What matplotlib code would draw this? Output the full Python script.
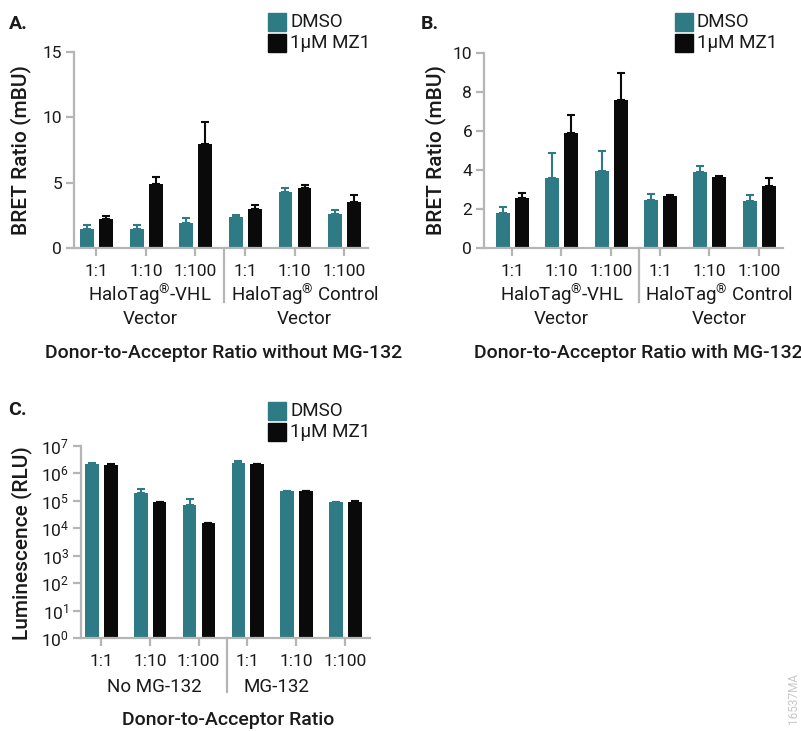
import matplotlib
matplotlib.use("Agg")
import matplotlib.pyplot as plt
from matplotlib.patches import Rectangle
from matplotlib.ticker import LogLocator, NullLocator
import numpy as np

plt.rcParams['font.family'] = ['Roboto', 'DejaVu Sans']
plt.rcParams['mathtext.fontset'] = 'custom'
plt.rcParams['mathtext.rm'] = 'Roboto'
plt.rcParams['mathtext.it'] = 'Roboto'
plt.rcParams['mathtext.bf'] = 'Roboto:bold'

# ---- data ----
ratios = ["1:1", "1:10", "1:100", "1:1", "1:10", "1:100"]
series = ["DMSO", "1µM MZ1"]

a_dmso = [1.48, 1.43, 1.89, 2.35, 4.25, 2.64]
a_dmso_err = [0.31, 0.31, 0.44, 0.18, 0.35, 0.25]
a_mz1 = [2.25, 4.89, 7.93, 3.00, 4.60, 3.53]
a_mz1_err = [0.18, 0.56, 1.74, 0.30, 0.21, 0.51]

b_dmso = [1.77, 3.57, 3.93, 2.47, 3.88, 2.42]
b_dmso_err = [0.34, 1.30, 1.06, 0.29, 0.34, 0.29]
b_mz1 = [2.57, 5.90, 7.60, 2.66, 3.64, 3.16]
b_mz1_err = [0.26, 0.94, 1.37, 0.07, 0.06, 0.44]

c_dmso = [2.14e6, 1.94e5, 7.2e4, 2.47e6, 2.22e5, 8.9e4]
c_dmso_err = [3.1e5, 7.6e4, 4.8e4, 2.8e5, 1.2e4, 4.0e3]
c_mz1 = [2.08e6, 8.9e4, 1.56e4, 2.14e6, 2.28e5, 9.3e4]
c_mz1_err = [1.0e5, 4.0e3, 6.0e2, 8.0e4, 8.0e3, 4.0e3]

groups_ab = ["HaloTag$^{®}$-VHL\nVector", "HaloTag$^{®}$ Control\nVector"]
groups_c = ["No MG-132", "MG-132"]

TEAL = "#2e7b86"
BLACK = "#0a0a0a"
GRAY = "#b5b5b5"
TXT = "#1a1a1a"

W, H = 801, 731
fig = plt.figure(figsize=(W / 100, H / 100), dpi=100)


def fx(x):
    return x / W


def fy(y):
    return 1 - y / H


def make_axes(left, top, right, bottom):
    return fig.add_axes([fx(left), fy(bottom), (right - left) / W, (bottom - top) / H])


def style_axes(ax, xlim):
    for s in ("top", "right"):
        ax.spines[s].set_visible(False)
    for s in ("left", "bottom"):
        ax.spines[s].set_color(GRAY)
        ax.spines[s].set_linewidth(1.6)
    ax.tick_params(axis="both", colors=GRAY, width=1.6, length=5.5,
                   labelcolor=TXT, labelsize=12.5)
    ax.tick_params(axis="x", pad=6)
    ax.tick_params(axis="y", pad=3)
    ax.set_xlim(*xlim)
    ax.set_xticks(np.arange(len(ratios)))
    ax.set_xticklabels(ratios)
    ax.patch.set_alpha(0)


def draw_bars(ax, dmso, dmso_err, mz1, mz1_err):
    x = np.arange(len(ratios))
    w = 0.28
    for xs, vals, errs, col in ((x - 0.185, dmso, dmso_err, TEAL),
                                (x + 0.2, mz1, mz1_err, BLACK)):
        ax.bar(xs, vals, width=w, color=col, zorder=2)
        ax.errorbar(xs, vals, yerr=[np.zeros(len(vals)), errs], fmt="none",
                    ecolor=col, elinewidth=1.5, capsize=3.2, capthick=1.5, zorder=3)


def below(ax, px):
    # axes-fraction offset for a distance in pixels below the x axis
    return -px / (ax.get_position().height * H)


def divider(ax, xdata, depth_px):
    # vertical separator between the two groups, running below the axis
    ax.plot([xdata, xdata], [0, below(ax, depth_px)], transform=ax.get_xaxis_transform(),
            color=GRAY, lw=1.6, clip_on=False, zorder=1)


def group_labels(ax, xs, labels, offset_px):
    for gx, lab in zip(xs, labels):
        ax.text(gx, below(ax, offset_px), lab, transform=ax.get_xaxis_transform(),
                ha="center", va="top", fontsize=13.5, color=TXT, linespacing=1.15)


def legend(x0, y0):
    for i, (lab, col) in enumerate(zip(series, (TEAL, BLACK))):
        yt = y0 + i * 21
        fig.patches.append(Rectangle((fx(x0), fy(yt + 18)), 18 / W, 18 / H,
                                     transform=fig.transFigure, color=col))
        fig.text(fx(x0 + 22), fy(yt + 9), lab, ha="left", va="center",
                 fontsize=13.5, color=TXT)


def ylabel(x, y, text):
    fig.text(fx(x), fy(y), text, rotation=90, ha="center", va="center",
             fontsize=15, fontweight="medium", color=TXT)


def panel_tag(x, y, text):
    fig.text(fx(x), fy(y), text, ha="center", va="center", fontsize=14,
             fontweight="bold", color=TXT)


def xtitle(x, y, text):
    fig.text(fx(x), fy(y), text, ha="center", va="center", fontsize=14,
             fontweight="medium", color=TXT)


# ---- panel A ----
axA = make_axes(74, 52, 368, 248)
draw_bars(axA, a_dmso, a_dmso_err, a_mz1, a_mz1_err)
style_axes(axA, (-0.45, 5.48))
axA.set_ylim(0, 15)
axA.set_yticks([0, 5, 10, 15])
divider(axA, 2.58, 54)
group_labels(axA, (1.08, 4.2), groups_ab, 35)
ylabel(21, 150, "BRET Ratio (mBU)")
panel_tag(18, 24, "A.")
xtitle(224, 353, "Donor-to-Acceptor Ratio without MG-132")
legend(268, 13)

# ---- panel B ----
axB = make_axes(484, 53, 783, 248)
draw_bars(axB, b_dmso, b_dmso_err, b_mz1, b_mz1_err)
style_axes(axB, (-0.57, 5.49))
axB.set_ylim(0, 10)
axB.set_yticks([0, 2, 4, 6, 8, 10])
divider(axB, 2.58, 54)
group_labels(axB, (1.0, 4.19), groups_ab, 35)
ylabel(436, 150, "BRET Ratio (mBU)")
panel_tag(430, 24, "B.")
xtitle(638, 353, "Donor-to-Acceptor Ratio with MG-132")
legend(675, 13)

# ---- panel C ----
axC = make_axes(81, 446, 370, 638)
axC.set_yscale("log")
draw_bars(axC, c_dmso, c_dmso_err, c_mz1, c_mz1_err)
style_axes(axC, (-0.41, 5.51))
axC.set_ylim(1, 1e7)
axC.yaxis.set_major_locator(LogLocator(base=10, numticks=10))
axC.yaxis.set_minor_locator(NullLocator())
divider(axC, 2.58, 54)
group_labels(axC, (1.1, 3.6), groups_c, 40)
ylabel(22, 543, "Luminescence (RLU)")
panel_tag(17, 410, "C.")
xtitle(228, 720, "Donor-to-Acceptor Ratio")
legend(268, 402)

fig.text(fx(794), fy(673), "16537MA", rotation=90, ha="center", va="top",
         fontsize=8.5, color="#c8c8c8")

fig.savefig("out.png", dpi=100)
